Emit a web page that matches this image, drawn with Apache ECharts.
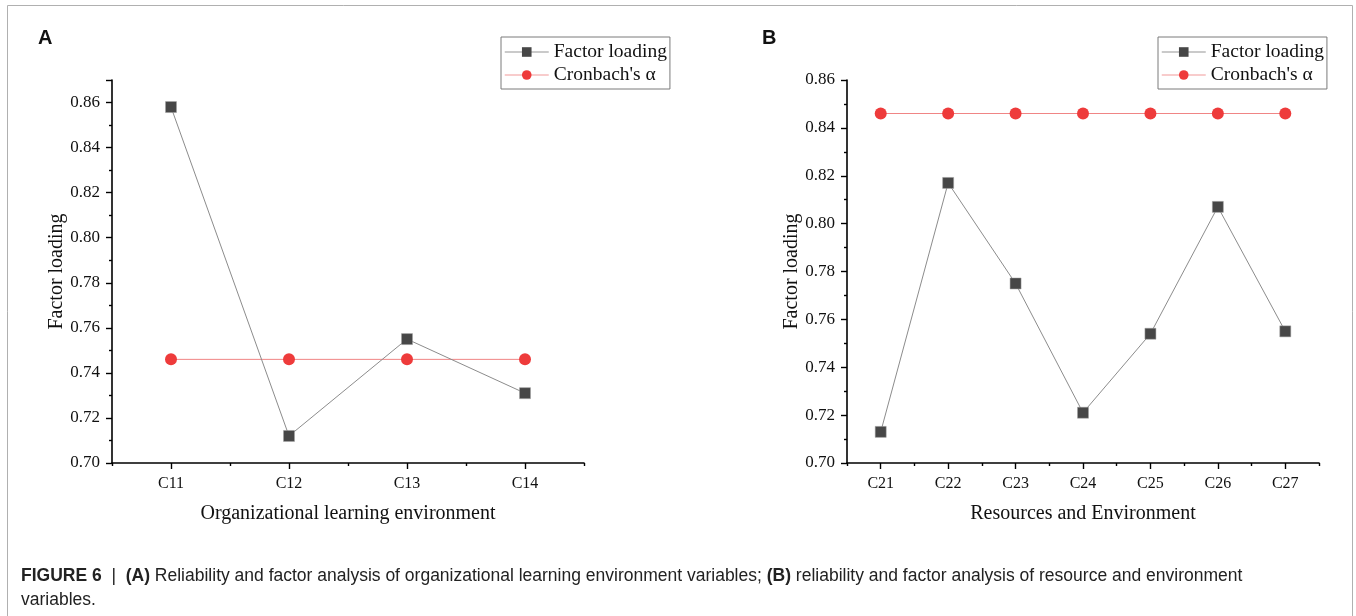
<!DOCTYPE html>
<html><head><meta charset="utf-8">
<script src="https://cdn.jsdelivr.net/npm/echarts@6/dist/echarts.min.js"></script>
<style>html,body{margin:0;padding:0;background:#fff}#c{width:1356px;height:616px}</style>
</head><body><div id="c"></div>
<script>
// ---- data ----
const catsA = ['C11', 'C12', 'C13', 'C14'];
const factorA = [0.858, 0.712, 0.755, 0.731];
const alphaA = [0.746, 0.746, 0.746, 0.746];

const catsB = ['C21', 'C22', 'C23', 'C24', 'C25', 'C26', 'C27'];
const factorB = [0.713, 0.817, 0.775, 0.721, 0.754, 0.807, 0.755];
const alphaB = [0.846, 0.846, 0.846, 0.846, 0.846, 0.846, 0.846];

const yTicksA = [0.70, 0.72, 0.74, 0.76, 0.78, 0.80, 0.82, 0.84, 0.86];
const yTicksB = [0.70, 0.72, 0.74, 0.76, 0.78, 0.80, 0.82, 0.84, 0.86];
const yMaxA = 0.87;
const yMaxB = 0.86;

const xNameA = 'Organizational learning environment';
const xNameB = 'Resources and Environment';
const yName = 'Factor loading';
const sFactor = 'Factor loading';
const sAlpha = "Cronbach's \u03b1";

// ---- styles ----
const SERIF = 'Liberation Serif';
const SANS = 'Liberation Sans';
const TXT = '#111';
const AX = { color: '#000', width: 1.6 };
const TK = { color: '#000', width: 1.4 };

function xMain(cats, gi, name) {
  return {
    type: 'category', gridIndex: gi, data: cats, boundaryGap: true, position: 'bottom',
    axisLine: { show: true, lineStyle: AX },
    axisTick: { show: true, interval: 0, length: 3, lineStyle: TK },
    axisLabel: { interval: 0, fontFamily: SERIF, fontSize: 16, color: TXT, margin: 13 },
    splitLine: { show: false },
    name: name, nameLocation: 'middle', nameGap: 41,
    nameTextStyle: { fontFamily: SERIF, fontSize: 20, color: TXT }
  };
}
function xTicks(cats, gi) {
  return {
    type: 'category', gridIndex: gi, data: cats, boundaryGap: true, position: 'bottom',
    axisLine: { show: false },
    axisTick: { show: true, interval: 0, alignWithLabel: true, length: 6, lineStyle: TK },
    axisLabel: { show: false }, splitLine: { show: false }
  };
}
function yAx(ticks, max, gi, showMax) {
  const interval = Math.round((ticks[1] - ticks[0]) * 100) / 100;
  return {
    type: 'value', gridIndex: gi, min: ticks[0], max: max, interval: interval,
    axisLine: { show: true, lineStyle: AX },
    axisTick: { show: true, length: 6, lineStyle: TK },
    minorTick: { show: true, splitNumber: 2, length: 3, lineStyle: TK },
    splitLine: { show: false },
    axisLabel: {
      fontFamily: SERIF, fontSize: 17, color: TXT, margin: 12,
      showMaxLabel: showMax, showMinLabel: true,
      formatter: v => v.toFixed(2)
    },
    name: yName, nameLocation: 'middle', nameGap: 40,
    nameTextStyle: { fontFamily: SERIF, fontSize: 20, color: TXT }
  };
}
function factorSeries(data, xi, yi) {
  return {
    name: sFactor, type: 'line', xAxisIndex: xi, yAxisIndex: yi, data: data,
    symbol: 'rect', symbolSize: 11, showAllSymbol: true,
    itemStyle: { color: '#474747', borderColor: '#a0a0a0', borderWidth: 0.5 },
    lineStyle: { color: '#8c8c8c', width: 1 },
    emphasis: { disabled: true }, z: 3
  };
}
function alphaSeries(data, xi, yi) {
  return {
    name: sAlpha, type: 'line', xAxisIndex: xi, yAxisIndex: yi, data: data,
    symbol: 'circle', symbolSize: 12, showAllSymbol: true,
    itemStyle: { color: '#ee3b3b' },
    lineStyle: { color: '#f08585', width: 1 },
    emphasis: { disabled: true }, z: 2
  };
}
function legendAt(left) {
  return {
    left: left, top: 37, orient: 'vertical',
    data: [
      { name: sFactor, itemStyle: { color: '#474747', borderWidth: 0 }, lineStyle: { color: '#b8b8b8', width: 1.5 } },
      { name: sAlpha, itemStyle: { color: '#ee3b3b' }, lineStyle: { color: '#f29a9a', width: 1.2 } }
    ],
    borderColor: '#7a7a7a', borderWidth: 1, padding: [5, 3, 4, 3],
    itemGap: 3, itemWidth: 44, itemHeight: 12,
    textStyle: { fontFamily: SERIF, fontSize: 19.5, color: TXT, lineHeight: 20 },
    selectedMode: false
  };
}

const chart = echarts.init(document.getElementById('c'), null, { renderer: 'canvas' });
chart.setOption({
  backgroundColor: '#fff',
  animation: false,
  grid: [
    { left: 112, right: 772, top: 80, bottom: 153, containLabel: false },
    { left: 847, right: 37, top: 80, bottom: 153, containLabel: false }
  ],
  legend: [legendAt(501), legendAt(1158)],
  xAxis: [xMain(catsA, 0, xNameA), xTicks(catsA, 0), xMain(catsB, 1, xNameB), xTicks(catsB, 1)],
  yAxis: [yAx(yTicksA, yMaxA, 0, false), yAx(yTicksB, yMaxB, 1, true)],
  series: [
    alphaSeries(alphaA, 0, 0), factorSeries(factorA, 0, 0),
    alphaSeries(alphaB, 2, 1), factorSeries(factorB, 2, 1)
  ],
  graphic: [
    { type: 'rect', silent: true, shape: { x: 7.5, y: 5.5, width: 1345, height: 640 },
      style: { fill: 'none', stroke: '#b0b0b0', lineWidth: 1 } },
    { type: 'text', left: 38, top: 28, style: { text: 'A', font: 'bold 20px "Liberation Sans"', fill: '#111' } },
    { type: 'text', left: 762, top: 28, style: { text: 'B', font: 'bold 20px "Liberation Sans"', fill: '#111' } },
    { type: 'text', left: 21, top: 564, style: {
        text: '{b|FIGURE 6}  |  {b|(A)} Reliability and factor analysis of organizational learning environment variables; {b|(B)} reliability and factor analysis of resource and environment\nvariables.',
        fontFamily: SANS, fontSize: 17.5, fill: '#222', lineHeight: 24,
        rich: { b: { fontFamily: SANS, fontSize: 17.5, fontWeight: 'bold', fill: '#222' } }
    } }
  ]
});
</script></body></html>
